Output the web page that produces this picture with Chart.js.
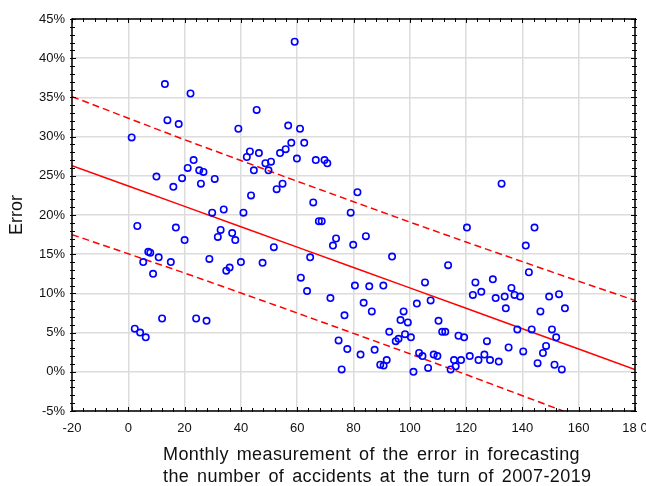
<!DOCTYPE html>
<html>
<head>
<meta charset="utf-8">
<script src="https://cdn.jsdelivr.net/npm/chart.js@4.4.1/dist/chart.umd.min.js"></script>
<style>
  html, body { margin: 0; padding: 0; background: #fff; }
  #wrap { width: 646px; height: 486px; }
</style>
</head>
<body>
<div id="wrap"><canvas id="errorChart"></canvas></div>
<script>
// Monthly measurements (x = month number, y = forecast error in %)
const monthX = [
  13.0, 22.1, 45.6, 13.9, 17.9, 39.1, 1.2, 43.2, 42.1, 46.4, 23.2, 21.1, 25.2, 26.7, 44.6, 10.0,
  19.1, 30.7, 25.8, 16.0, 43.6, 59.1, 56.8, 61.0, 57.9, 62.5, 53.9, 55.9, 59.9, 48.7, 50.7, 49.8,
  66.6, 69.7, 70.7, 54.8, 52.7, 81.4, 132.6, 29.8, 33.9, 40.9, 3.2, 16.9, 32.8, 31.8, 36.9, 38.0,
  20.0, 7.1, 7.8, 5.3, 10.8, 15.1, 8.8, 28.8, 34.8, 36.0, 40.0, 12.0, 24.1, 27.8, 2.3, 4.2,
  6.2, 65.7, 79.0, 67.7, 68.7, 73.8, 72.7, 79.9, 84.4, 51.7, 64.6, 93.7, 47.7, 61.3, 63.5, 80.5,
  85.6, 90.6, 105.4, 71.8, 83.6, 86.5, 76.8, 102.5, 107.4, 97.8, 96.7, 99.3, 110.2, 92.7, 98.3, 100.4,
  95.0, 96.0, 74.7, 77.8, 82.5, 87.5, 91.8, 89.5, 90.7, 75.8, 101.3, 106.5, 103.3, 104.5, 108.5, 109.8,
  120.3, 144.3, 141.2, 113.6, 142.3, 123.3, 129.5, 136.1, 122.4, 125.4, 130.5, 133.7, 137.2, 139.2, 134.1, 149.5,
  153.0, 155.1, 146.4, 111.5, 112.6, 117.3, 119.3, 138.2, 143.3, 150.5, 152.0, 127.4, 135.1, 140.3, 148.4, 147.3,
  114.5, 116.3, 115.7, 118.2, 121.3, 124.4, 126.5, 128.5, 131.6, 145.4, 151.4, 154.0
];
const errorY = [
  36.7, 35.5, 33.4, 32.1, 31.6, 31.0, 29.9, 28.1, 27.4, 27.9, 27.0, 26.0, 25.7, 25.5, 25.7, 24.9,
  24.7, 24.6, 24.0, 23.6, 22.5, 42.1, 31.4, 31.0, 29.2, 29.2, 27.9, 28.4, 27.2, 26.6, 26.8, 25.7,
  27.0, 27.0, 26.6, 24.0, 23.3, 22.9, 24.0, 20.3, 20.7, 20.3, 18.6, 18.4, 18.1, 17.2, 17.7, 16.8,
  16.8, 15.3, 15.2, 14.0, 14.6, 14.0, 12.5, 14.4, 12.9, 13.3, 14.0, 6.8, 6.8, 6.5, 5.5, 5.0,
  4.4, 21.6, 20.3, 19.2, 19.2, 17.0, 16.1, 16.2, 17.3, 15.9, 14.6, 14.7, 13.9, 12.0, 10.3, 11.0,
  10.9, 11.0, 11.4, 9.4, 8.8, 7.7, 7.2, 8.7, 9.1, 7.7, 6.6, 6.3, 6.5, 5.1, 4.8, 4.4,
  3.9, 4.2, 4.0, 2.9, 2.2, 2.8, 1.5, 0.9, 0.8, 0.3, 0.0, 0.5, 2.4, 2.0, 2.2, 2.0,
  18.4, 18.4, 16.1, 13.6, 12.7, 11.4, 11.8, 10.7, 9.8, 10.2, 9.4, 9.6, 9.8, 9.6, 8.1, 9.6,
  9.9, 8.1, 7.7, 5.1, 5.1, 4.6, 4.4, 5.4, 5.4, 5.4, 4.4, 3.9, 3.1, 2.6, 3.3, 2.4,
  0.3, 0.7, 1.5, 1.5, 2.0, 1.5, 2.2, 1.5, 1.3, 1.1, 0.9, 0.3
];

// Regression line and prediction band, read at the x tick positions
const bandX = [-20, 0, 20, 40, 60, 80, 100, 120, 140, 160, 180];
const fitY = [26.3, 23.7, 21.1, 18.5, 15.9, 13.3, 10.7, 8.1, 5.5, 2.9, 0.3];
const upperY = [35.1, 32.35, 29.6, 26.95, 24.3, 21.7, 19.1, 16.55, 14.05, 11.55, 9.1];
const lowerY = [17.5, 15.05, 12.6, 10.05, 7.5, 4.9, 2.3, -0.35, -3.05, -5.75, -8.5];

const xTickLabels = ['-20', '0', '20', '40', '60', '80', '100', '120', '140', '160', '18 0'];
const xTitleLines = ['Monthly measurement of the error in forecasting',
                     'the number of accidents at the turn of 2007-2019'];

const toPoints = (xs, ys) => xs.map((x, i) => ({ x: x, y: ys[i] }));

const FONT = "'Liberation Sans', Arial, sans-serif";

// black frame around the plot with major/minor tick marks on every side
const framePlugin = {
    id: 'frame',
    afterDraw(chart) {
        const { ctx, chartArea: a, scales: { x, y } } = chart;
        ctx.save();
        ctx.strokeStyle = '#000';
        ctx.lineWidth = 1.5;
        ctx.strokeRect(a.left, a.top, a.right - a.left, a.bottom - a.top);
        ctx.lineWidth = 1;
        ctx.beginPath();
        for (let v = x.min; v <= x.max + 0.01; v += 4) {
            const px = Math.round(x.getPixelForValue(v)) + 0.5;
            const len = Math.abs(v % 20) < 0.01 ? 4 : 3;
            ctx.moveTo(px, a.top - 1); ctx.lineTo(px, a.top + len);
            ctx.moveTo(px, a.bottom + 1); ctx.lineTo(px, a.bottom - len);
        }
        for (let v = y.min; v <= y.max + 0.01; v += 1) {
            const py = Math.round(y.getPixelForValue(v)) + 0.5;
            const len = Math.abs(v % 5) < 0.01 ? 4 : 3;
            ctx.moveTo(a.left - 2, py); ctx.lineTo(a.left + len, py);
            ctx.moveTo(a.right + 2, py); ctx.lineTo(a.right - len, py);
        }
        ctx.stroke();

        // x axis title, two left-aligned lines
        ctx.fillStyle = '#111';
        ctx.font = '18px ' + FONT;
        ctx.letterSpacing = '0.4px';
        ctx.wordSpacing = '2.5px';
        ctx.textAlign = 'left';
        ctx.textBaseline = 'middle';
        ctx.fillText(xTitleLines[0], 163, 455);
        ctx.fillText(xTitleLines[1], 163, 477);
        ctx.restore();
    }
};

const ctx = document.getElementById('errorChart').getContext('2d');
new Chart(ctx, {
    type: 'scatter',
    data: {
        datasets: [
            {
                label: 'Measurements',
                data: toPoints(monthX, errorY),
                pointStyle: 'circle',
                pointRadius: 3.2,
                pointBorderWidth: 1.6,
                borderColor: '#0000ff',
                backgroundColor: 'rgba(0,0,0,0)',
                order: 0
            },
            {
                label: 'Fit',
                data: toPoints(bandX, fitY),
                showLine: true,
                pointRadius: 0,
                borderColor: '#ff0000',
                borderWidth: 1.5,
                order: 1
            },
            {
                label: 'Upper',
                data: toPoints(bandX, upperY),
                showLine: true,
                pointRadius: 0,
                borderColor: '#ff0000',
                borderWidth: 1.5,
                borderDash: [7, 4],
                order: 1
            },
            {
                label: 'Lower',
                data: toPoints(bandX, lowerY),
                showLine: true,
                pointRadius: 0,
                borderColor: '#ff0000',
                borderWidth: 1.5,
                borderDash: [7, 4],
                order: 1
            }
        ]
    },
    options: {
        responsive: true,
        maintainAspectRatio: false,
        animation: false,
        layout: { padding: { top: 19, right: 0, left: 0, bottom: 0 } },
        plugins: {
            legend: { display: false },
            tooltip: { enabled: false }
        },
        scales: {
            x: {
                type: 'linear',
                min: -20,
                max: 180,
                afterFit: s => { s.height = 75; s.paddingRight = 11; s.paddingLeft = 0; },
                border: { display: false },
                grid: { color: '#dcdcdc', lineWidth: 1.5, drawTicks: false },
                ticks: {
                    stepSize: 20,
                    padding: 10,
                    color: '#111',
                    font: { family: FONT, size: 13 },
                    callback: (v) => xTickLabels[Math.round((v + 20) / 20)]
                }
            },
            y: {
                type: 'linear',
                min: -5,
                max: 45,
                afterFit: s => { s.width = 72; },
                border: { display: false },
                grid: { color: '#dcdcdc', lineWidth: 1.5, drawTicks: false },
                ticks: {
                    stepSize: 5,
                    padding: 7,
                    color: '#111',
                    font: { family: FONT, size: 13 },
                    callback: (v) => v + '%'
                },
                title: {
                    display: true,
                    text: 'Error',
                    color: '#111',
                    font: { family: FONT, size: 18 },
                    padding: { top: 6, bottom: 0 }
                }
            }
        }
    },
    plugins: [framePlugin]
});
</script>
</body>
</html>
